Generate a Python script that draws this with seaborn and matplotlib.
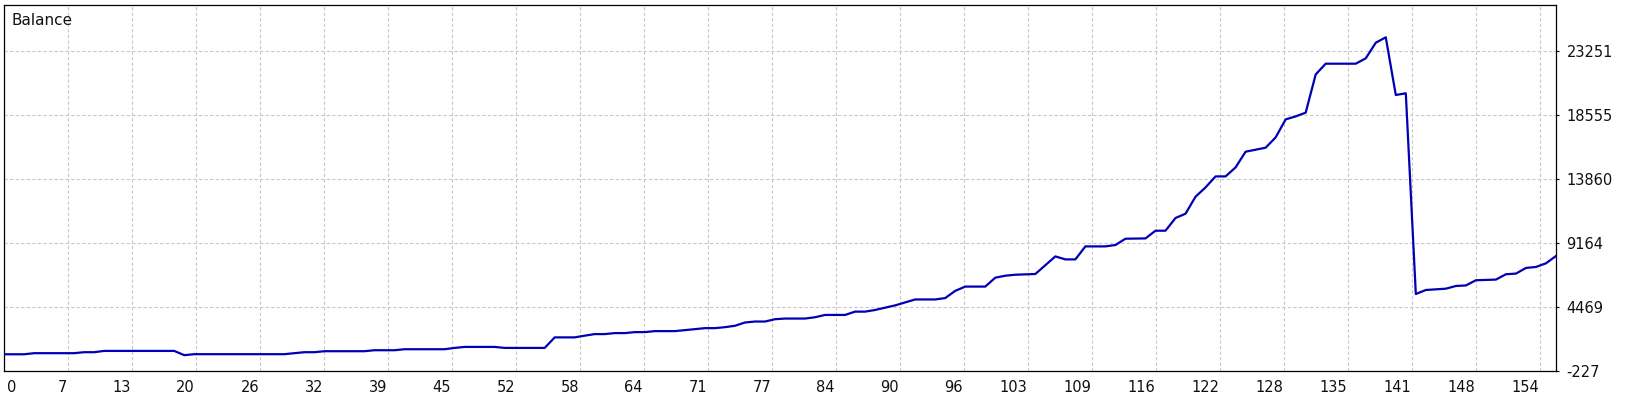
import numpy as np
import pandas as pd
import seaborn as sns
import matplotlib.pyplot as plt
from matplotlib.transforms import ScaledTranslation

# trade number / balance (break points of the curve)
trades = [0, 2, 3, 7, 8, 9, 10, 17, 18, 19, 28, 29, 30, 31, 32, 36, 37, 39, 40,
          44, 45, 46, 49, 50, 54, 55, 57, 58, 59, 60, 61, 62, 63, 64, 65, 67, 68,
          69, 70, 71, 72, 73, 74, 75, 76, 77, 78, 80, 81, 82, 84, 85, 86, 87, 88,
          89, 90, 91, 93, 94, 95, 96, 98, 99, 100, 101, 103, 105, 106, 107, 108,
          110, 111, 112, 114, 115, 116, 117, 118, 119, 120, 121, 122, 123, 124,
          125, 126, 127, 128, 129, 130, 131, 132, 135, 136, 137, 138, 139, 140,
          141, 142, 144, 145, 146, 147, 149, 150, 151, 152, 153, 154, 155]
balance = [1000, 1000, 1080, 1080, 1152, 1152, 1247, 1247, 935, 1007, 1007, 1080,
           1152, 1152, 1225, 1225, 1297, 1297, 1370, 1370, 1467, 1540, 1540, 1467,
           1467, 2240, 2240, 2365, 2481, 2481, 2554, 2554, 2626, 2626, 2699, 2699,
           2771, 2844, 2917, 2917, 2989, 3091, 3330, 3403, 3403, 3572, 3621, 3621,
           3717, 3886, 3886, 4129, 4129, 4250, 4420, 4587, 4805, 5022, 5022, 5124,
           5654, 5966, 5966, 6619, 6764, 6837, 6889, 8181, 7961, 7961, 8915, 8915,
           9017, 9479, 9500, 10066, 10066, 10998, 11314, 12561, 13243, 14050, 14050,
           14711, 15863, 16009, 16156, 16912, 18233, 18453, 18727, 21530, 22320,
           22320, 22713, 23860, 24255, 20023, 20147, 5422, 5716, 5813, 6011, 6050,
           6431, 6480, 6871, 6920, 7334, 7407, 7676, 8212]

x_labels = ['0', '7', '13', '20', '26', '32', '39', '45', '52', '58', '64', '71', '77',
            '84', '90', '96', '103', '109', '116', '122', '128', '135', '141', '148', '154']
y_ticks = [-227, 4469, 9164, 13860, 18555, 23251]

def main():
    sns.set_theme(style="white")
    plt.rcParams['font.family'] = ['DejaVu Sans']

    df = pd.DataFrame({'trade': trades, 'balance': balance})

    fig = plt.figure(figsize=(16.4, 4), dpi=100)
    ax = fig.add_axes([4 / 1640, 29 / 400, 1552 / 1640, 366 / 400])

    sns.lineplot(data=df, x='trade', y='balance', ax=ax, color='#0000b4',
                 linewidth=1.6, zorder=3)

    # x grid: 64px steps, 155 trades over 1552px
    step = 155 / 24.25
    ax.set_xlim(0, 155)
    ax.set_xticks(np.arange(len(x_labels)) * step)
    ax.set_xticklabels(x_labels)
    ax.set_ylim(-227, 26626)
    ax.set_yticks(y_ticks)
    ax.set_yticklabels([str(v) for v in y_ticks])

    ax.yaxis.tick_right()
    ax.grid(True, color='#c8c8c8', linestyle=(0, (3, 2)), linewidth=0.8, zorder=0)
    ax.set_axisbelow(True)
    for s in ax.spines.values():
        s.set_color('black')
        s.set_linewidth(0.9)
        s.set_visible(True)

    ax.tick_params(axis='x', direction='out', length=2.5, width=0.8, color='black',
                   labelsize=10.5, pad=4, labelcolor='#111111')
    ax.tick_params(axis='y', direction='out', length=2.5, width=0.8, color='black',
                   labelsize=10.5, pad=5, labelcolor='#111111',
                   left=False, right=True, labelleft=False, labelright=True)

    # labels sit just left of their grid line, the first one inside the frame
    labels = ax.get_xticklabels()
    for i, lab in enumerate(labels):
        if i == 0:
            lab.set_ha('left')
            lab.set_transform(lab.get_transform() + ScaledTranslation(3 / 100, 0, fig.dpi_scale_trans))
        else:
            lab.set_ha('right')
            lab.set_transform(lab.get_transform() + ScaledTranslation(-1 / 100, 0, fig.dpi_scale_trans))

    ax.set_xlabel('')
    ax.set_ylabel('')
    ax.text(8 / 1552, 1 - 8 / 366, 'Balance', transform=ax.transAxes,
            ha='left', va='top', fontsize=11, color='#111111')

    fig.savefig('out.png', dpi=100, facecolor='white')

if __name__ == "__main__":
    main()
